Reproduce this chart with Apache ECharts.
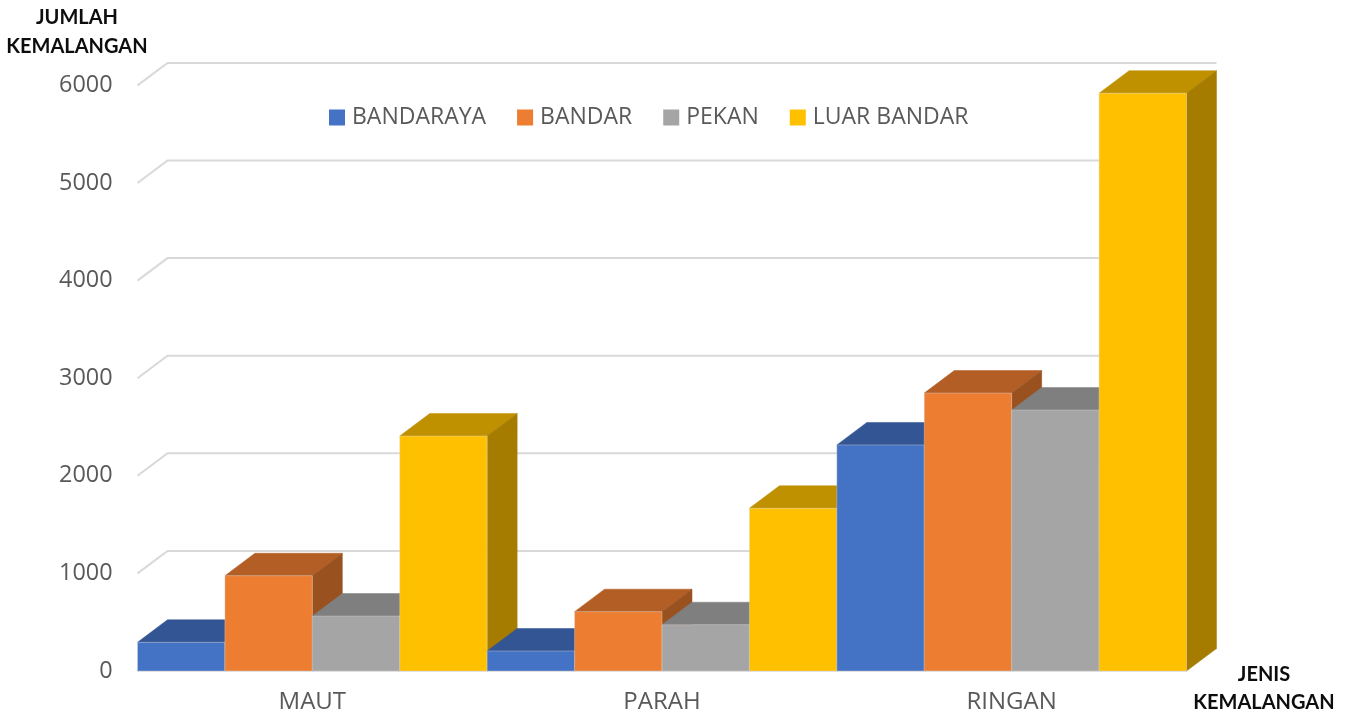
<!DOCTYPE html>
<html>
<head>
<meta charset="utf-8">
<style>html,body{margin:0;padding:0;background:#fff}#chart{width:1350px;height:714px}</style>
<script src="https://cdn.jsdelivr.net/npm/echarts@6/dist/echarts.min.js"></script>
</head>
<body>
<div id="chart"></div>
<script>
var categories=['MAUT','PARAH','RINGAN'];
var seriesNames=['BANDARAYA','BANDAR','PEKAN','LUAR BANDAR'];
var bandaraya=[294,205,2316];
var bandar=[976,608,2848];
var pekan=[563,474,2674];
var luarBandar=[2408,1667,5920];
var ticks=[0,1000,2000,3000,4000,5000,6000];

var seriesValues=[bandaraya,bandar,pekan,luarBandar];
//front, top, side
var colors=[
	['#4472C4','#335593','#2C4A80'],
	['#ED7D31','#B25E25','#9A5120'],
	['#A5A5A5','#7F7F7F','#6B6B6B'],
	['#FFC000','#BF9000','#A67C00']
];
var DX=30,DY=-22.5,EDGE='#d9d9d9';
var chart=echarts.init(document.getElementById('chart'));

//one bar with its top and side, later bars cover earlier ones
function barItem(s){
	return function(params,api){
		var cat=api.value(0),val=api.value(1);
		var top=api.coord([cat,val]),base=api.coord([cat,0]);
		var w=api.size([1,0])[0]/4;
		var x0=top[0]-2*w+s*w,x1=x0+w,y0=top[1],y1=base[1];
		var z=cat*4+s+10;
		return {type:'group',children:[
			{type:'polygon',z2:z,shape:{points:[[x0,y0],[x1,y0],[x1+DX,y0+DY],[x0+DX,y0+DY]]},
				style:{fill:colors[s][1],stroke:colors[s][1],lineWidth:0.5}},
			{type:'polygon',z2:z,shape:{points:[[x1,y0],[x1+DX,y0+DY],[x1+DX,y1+DY],[x1,y1]]},
				style:{fill:colors[s][2],stroke:colors[s][2],lineWidth:0.5}},
			{type:'rect',z2:z+0.5,shape:{x:x0,y:y0,width:w,height:y1-y0},
				style:{fill:colors[s][0],stroke:EDGE,lineWidth:0.4}}
		]};
	};
}

//gridlines on the back wall
function gridItem(params,api){
	var p=api.coord([0,api.value(1)]);
	var rect=params.coordSys;
	return {type:'polyline',z2:1,
		shape:{points:[[rect.x,p[1]],[rect.x+DX,p[1]+DY],[rect.x+rect.width+DX,p[1]+DY]]},
		style:{fill:null,stroke:EDGE,lineWidth:2}};
}

var series=[{
	type:'custom',
	silent:true,
	renderItem:gridItem,
	data:ticks.map(function(t){return [0,t];}),
	clip:false
}];
seriesNames.forEach(function(name,s){
	series.push({
		name:name,
		type:'custom',
		renderItem:barItem(s),
		itemStyle:{color:colors[s][0]},
		data:seriesValues[s].map(function(v,i){return [i,v];}),
		clip:false
	});
});

var option={
	animation:false,
	backgroundColor:'#fff',
	textStyle:{fontFamily:'Open Sans'},
	legend:{
		data:seriesNames,
		left:324,
		top:101,
		icon:'rect',
		itemWidth:16,
		itemHeight:16,
		itemGap:31,
		textStyle:{color:'#595959',fontSize:23,fontFamily:'Open Sans',padding:[0,0,0,2]}
	},
	grid:{left:137.5,right:163.5,top:85.4,bottom:43,outerBoundsMode:'none'},
	xAxis:{
		type:'category',
		data:categories,
		axisTick:{show:false},
		axisLine:{lineStyle:{color:EDGE,width:1.5}},
		axisLabel:{color:'#595959',fontSize:24,fontFamily:'Open Sans',margin:19}
	},
	yAxis:{
		type:'value',
		min:0,
		max:6000,
		interval:1000,
		axisLine:{show:false},
		axisTick:{show:false},
		splitLine:{show:false},
		axisLabel:{color:'#595959',fontSize:23.4,fontFamily:'Open Sans',margin:25,padding:[2,0,0,0],
			formatter:function(v){return String(v);}}
	},
	graphic:[
		{type:'text',x:77,y:3.5,style:{text:'JUMLAH\nKEMALANGAN',align:'center',fill:'#0d0d0d',font:'bold 20px Lato',lineHeight:29}},
		{type:'text',x:1264,y:661,style:{text:'JENIS\nKEMALANGAN',align:'center',fill:'#0d0d0d',font:'bold 20px Lato',lineHeight:28}}
	],
	series:series
};
chart.setOption(option);
</script>
</body>
</html>
